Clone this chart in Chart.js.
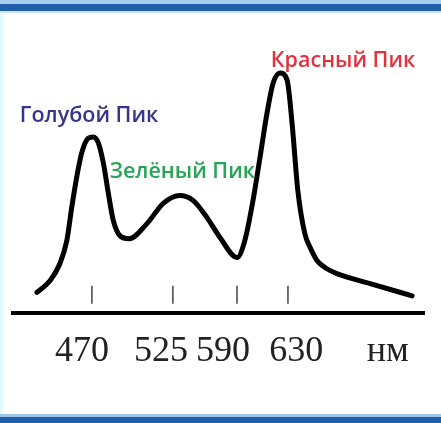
<!DOCTYPE html>
<html>
<head>
<meta charset="utf-8">
<script src="https://cdn.jsdelivr.net/npm/chart.js@4/dist/chart.umd.min.js"></script>
<style>
  html,body{margin:0;padding:0;background:#fff;}
  #cadre{position:relative;width:441px;height:423px;overflow:hidden;background:#fff;}
  #haut{position:absolute;left:0;top:0;width:441px;height:4px;background:#a8cdee;}
  #haut2{position:absolute;left:0;top:4px;width:441px;height:7px;background:#1f5ea8;}
  #haut3{position:absolute;left:0;top:11px;width:441px;height:2px;background:#cfe4f6;}
  #bas1{position:absolute;left:0;top:414px;width:441px;height:3px;background:#9cc6ea;}
  #bas2{position:absolute;left:0;top:417px;width:441px;height:6px;background:#1f5ea8;}
  #gauche{position:absolute;left:0;top:13px;width:3px;height:401px;background:#e2f6fd;}
  canvas{position:absolute;left:0;top:0;}
</style>
</head>
<body>
<div id="cadre">
  <div id="haut"></div><div id="haut2"></div><div id="haut3"></div>
  <div id="gauche"></div>
  <div id="bas1"></div><div id="bas2"></div>
  <canvas id="graph" width="441" height="423"></canvas>
</div>
<script>
// spectre schematique : position sur l'axe (0-100) et intensite relative
var positions=[5.8,9.0,11.4,13.1,14.3,15.5,16.7,18.3,19.5,20.8,22.0,23.2,24.4,26.0,28.3,32.6,36.5,40.6,43.8,47.2,50.4,54.5,56.4,58.4,60.1,61.8,63.3,65.0,66.7,67.9,69.3,71.0,72.3,74.0,76.4,78.8,86.9,97.1]
var intensites=[7.8,12.3,18.8,27.7,40.5,52.0,61.2,66.9,67.4,65.0,57.3,45.8,35.4,29.6,28.4,34.2,41.9,45.0,43.1,36.5,28.8,21.2,27.7,43.1,59.6,76.5,88.1,91.9,89.2,72.7,46.9,30.4,25.0,20.0,16.9,15.0,11.2,6.5]

// graduations (petits traits) et etiquettes de l'axe
var marques=[19.2,38.9,54.5,66.9]
var etiquettes=["470","525","590","630","нм"]
var posEtiquettes=[16.8,36.0,51.1,68.9,91.2]

// noms des pics
var pics=["Голубой Пик","Зелёный Пик","Красный Пик"]
var picX=[18.5,41.2,80.3]
var picY=[73.1,51.5,94.2]
var couleursPics=["#35368a","#27a456","#e2323e"]

var points=[]
for(var i=0;i<positions.length;i++){
    points.push({x:positions[i],y:intensites[i]})
}

const traits={ // dessiner les petits traits au dessus de l'axe
    id:"traits",
    afterDatasetsDraw(chart){
        var ctx=chart.ctx
        var x=chart.scales.x
        var bas=chart.chartArea.bottom
        ctx.save()
        ctx.strokeStyle="#444"
        ctx.lineWidth=1.5
        for(var i=0;i<marques.length;i++){
            var px=x.getPixelForValue(marques[i])
            ctx.beginPath()
            ctx.moveTo(px,bas-27)
            ctx.lineTo(px,bas-9)
            ctx.stroke()
        }
        ctx.restore()
    }
}

const nomsPics={ // ecrire le nom des pics
    id:"nomsPics",
    afterDraw(chart){
        var ctx=chart.ctx
        ctx.save()
        ctx.font="600 21.5px 'Open Sans'"
        ctx.textAlign="center"
        ctx.textBaseline="alphabetic"
        for(var i=0;i<pics.length;i++){
            ctx.fillStyle=couleursPics[i]
            ctx.fillText(pics[i],chart.scales.x.getPixelForValue(picX[i]),chart.scales.y.getPixelForValue(picY[i]))
        }
        ctx.restore()
    }
}

var chart=new Chart(document.getElementById("graph"),{
    type:"line",
    data:{
        datasets:[{
            data:points,
            borderColor:"#000",
            borderWidth:5,
            borderCapStyle:"round",
            borderJoinStyle:"round",
            pointRadius:0,
            cubicInterpolationMode:"monotone",
            fill:false
        }]
    },
    options:{
        responsive:false,
        animation:false,
        layout:{padding:{left:13,right:17,top:52,bottom:33}},
        plugins:{legend:{display:false},tooltip:{enabled:false},title:{display:false}},
        scales:{
            x:{
                type:"linear",
                min:0,
                max:100,
                grid:{display:false,drawTicks:false},
                border:{display:true,color:"#000",width:4},
                afterBuildTicks:function(axis){
                    axis.ticks=posEtiquettes.map(function(v){return {value:v}})
                },
                ticks:{
                    autoSkip:false,
                    maxRotation:0,
                    padding:17,
                    color:"#222",
                    font:{family:"'Liberation Serif'",size:36},
                    callback:function(value,index){return etiquettes[index]}
                }
            },
            y:{
                display:false,
                min:0,
                max:100
            }
        }
    },
    plugins:[traits,nomsPics]
})
</script>
</body>
</html>
